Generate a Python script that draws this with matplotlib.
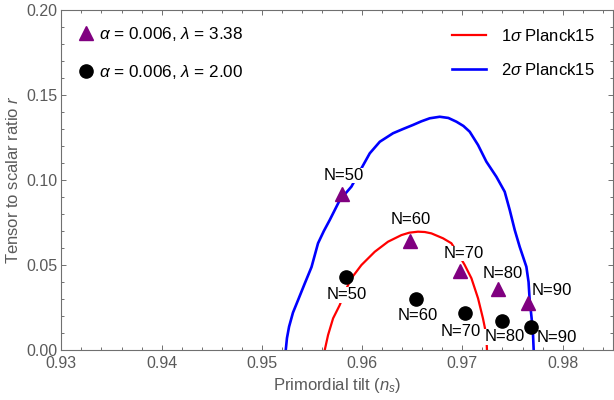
import matplotlib
matplotlib.use('Agg')
import matplotlib.pyplot as plt
from matplotlib.ticker import MultipleLocator

plt.rcParams['font.family'] = ['Liberation Sans', 'DejaVu Sans']
plt.rcParams['mathtext.fontset'] = 'custom'
plt.rcParams['mathtext.rm'] = 'Liberation Sans'
plt.rcParams['mathtext.it'] = 'Liberation Sans:italic'
plt.rcParams['mathtext.bf'] = 'Liberation Sans:bold'

# model points
n_labels = ['N=50', 'N=60', 'N=70', 'N=80', 'N=90']
ns_tri = [0.9580, 0.9648, 0.9698, 0.97355, 0.97651]
r_tri = [0.0918, 0.0641, 0.0466, 0.0357, 0.0278]
ns_dot = [0.95843, 0.96537, 0.9703, 0.9740, 0.97684]
r_dot = [0.0428, 0.0298, 0.0216, 0.0169, 0.0135]

# Planck15 contours
blue_ns = [0.95238, 0.95250, 0.95271, 0.95310, 0.95361, 0.95428, 0.95495, 0.95560,
           0.95618, 0.95677, 0.95777, 0.95893, 0.95993, 0.96076, 0.96176, 0.96308,
           0.96408, 0.96508, 0.96590, 0.96674, 0.96774, 0.96860, 0.96940, 0.97010,
           0.97073, 0.97156, 0.97239, 0.97339, 0.97422, 0.97472, 0.97522, 0.97571,
           0.97638, 0.97660, 0.97671, 0.97690, 0.97704, 0.97711]
blue_r = [0.0, 0.0070, 0.0137, 0.0220, 0.0294, 0.0392, 0.0488, 0.0628,
          0.0700, 0.0765, 0.0882, 0.0961, 0.1069, 0.1157, 0.1225, 0.1275,
          0.1300, 0.1324, 0.1345, 0.1363, 0.1372, 0.1365, 0.1343, 0.1318,
          0.1284, 0.1206, 0.1108, 0.1019, 0.0931, 0.0824, 0.0706, 0.0608,
          0.0490, 0.0400, 0.0294, 0.0190, 0.0098, 0.0]
red_ns = [0.95627, 0.95660, 0.95710, 0.95777, 0.95826, 0.95893, 0.95993, 0.96126,
          0.96258, 0.96392, 0.96470, 0.96557, 0.96625, 0.96691, 0.96807, 0.96890,
          0.96953, 0.97023, 0.97090, 0.97156, 0.97205, 0.97239, 0.97245]
red_r = [0.0, 0.0088, 0.0186, 0.0265, 0.0341, 0.0422, 0.0500, 0.0578,
         0.0637, 0.0676, 0.0690, 0.0696, 0.0694, 0.0686, 0.0657, 0.0628,
         0.0571, 0.0500, 0.0422, 0.0304, 0.0186, 0.0088, 0.0]

tri_off = [(1.2, 13.3), (0, 15.2), (2.3, 12.5), (3.7, 11.5), (17.6, 8.6)]
dot_off = [(0.6, -12.7), (1.4, -11.3), (-3.2, -13.0), (1.3, -11.3), (18.3, -7.4)]

fig = plt.figure(figsize=(6.14, 4.0), dpi=100)
ax = fig.add_axes([0.1, 0.125, 0.898, 0.85])

red, = ax.plot(red_ns, red_r, color='red', lw=1.6, label=r'1$\sigma$ Planck15', zorder=2)
blue, = ax.plot(blue_ns, blue_r, color='blue', lw=1.9, label=r'2$\sigma$ Planck15', zorder=2)
tri, = ax.plot(ns_tri, r_tri, '^', color='purple', ms=10, ls='none',
               label=r'$\alpha$ = 0.006, $\lambda$ = 3.38', zorder=4)
dot, = ax.plot(ns_dot, r_dot, 'o', color='black', ms=9.5, ls='none',
               label=r'$\alpha$ = 0.006, $\lambda$ = 2.00', zorder=4)

for i in range(len(n_labels)):
    ax.annotate(n_labels[i], (ns_tri[i], r_tri[i]), xytext=tri_off[i],
                textcoords='offset points', ha='center', va='center', fontsize=12,
                bbox=dict(fc='white', ec='none', pad=0.3), zorder=3)
    ax.annotate(n_labels[i], (ns_dot[i], r_dot[i]), xytext=dot_off[i],
                textcoords='offset points', ha='center', va='center', fontsize=12,
                bbox=dict(fc='white', ec='none', pad=0.3), zorder=3)

leg1 = ax.legend(handles=[tri, dot], loc='upper left', bbox_to_anchor=(0.0, 1.0),
                 frameon=False, fontsize=12.3, handlelength=1.05, handletextpad=0.25,
                 labelspacing=1.15, borderaxespad=0.5)
ax.add_artist(leg1)
ax.legend(handles=[red, blue], loc='upper right', bbox_to_anchor=(1.0, 1.0),
          frameon=False, fontsize=12, handlelength=2.05, handletextpad=0.9,
          labelspacing=1.05, borderaxespad=0.7)

ax.set_xlim(0.93, 0.985)
ax.set_ylim(0.0, 0.2)
ax.xaxis.set_major_locator(MultipleLocator(0.01))
ax.xaxis.set_minor_locator(MultipleLocator(0.002))
ax.yaxis.set_major_locator(MultipleLocator(0.05))
ax.yaxis.set_minor_locator(MultipleLocator(0.01))
ax.xaxis.set_major_formatter(plt.FuncFormatter(lambda v, p: '%.2f' % v))
ax.yaxis.set_major_formatter(plt.FuncFormatter(lambda v, p: '%.2f' % v))

fc = '#707070'
for s in ax.spines.values():
    s.set_color(fc)
    s.set_linewidth(0.8)
ax.tick_params(which='both', direction='in', top=True, right=True, color=fc,
               labelcolor='#5a5a5a', labelsize=11.5, pad=3.0, width=0.7)
ax.tick_params(axis='x', pad=4.0)
ax.tick_params(which='major', length=3.5)
ax.tick_params(which='minor', length=2)

ax.set_xlabel(r'Primordial tilt ($n_s$)', color='#5a5a5a', fontsize=12, labelpad=4)
ax.set_ylabel(r'Tensor to scalar ratio $r$', color='#5a5a5a', fontsize=12, labelpad=4)

fig.savefig('out.png', dpi=100)
